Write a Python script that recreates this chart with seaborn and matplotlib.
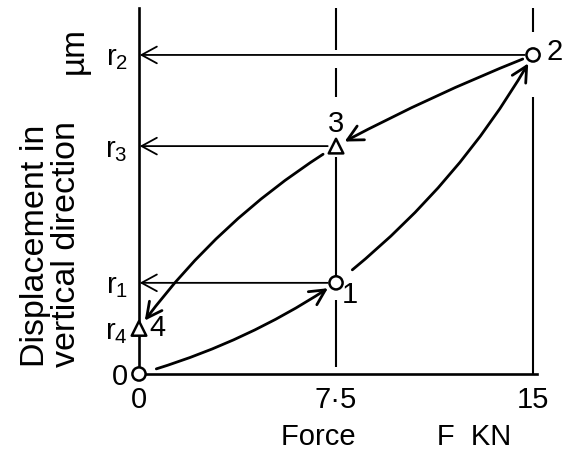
import matplotlib
matplotlib.use("Agg")
import matplotlib.pyplot as plt
import seaborn as sns
import pandas as pd

# ---- data ----
force = [0, 7.5, 15, 7.5, 0]
disp = [0, 2, 7, 5, 1]
point_names = ["0", "1", "2", "3", "4"]
point_kind = ["load", "load", "load", "unload", "unload"]
xticks = [0, 7.5, 15]
xtick_labels = ["0", "7·5", "15"]
yticks = [0, 1, 2, 5, 7]
ytick_labels = ["0", "r$_4$", "r$_1$", "r$_3$", "r$_2$"]

df = pd.DataFrame({"F": force, "r": disp, "name": point_names, "kind": point_kind})

sns.set_theme(style="white")
plt.rcParams["font.family"] = ["Liberation Sans", "DejaVu Sans"]
plt.rcParams["mathtext.default"] = "regular"

fig = plt.figure(figsize=(5.79, 4.55), dpi=100)
ax = fig.add_axes([139 / 579, 81 / 455, 398 / 579, 366 / 455])
ax.set_xlim(0, 15.15)
ax.set_ylim(0, 8.03)

for s in ["top", "right"]:
    ax.spines[s].set_visible(False)
for s in ["left", "bottom"]:
    ax.spines[s].set_color("black")
    ax.spines[s].set_linewidth(1.9)

# vertical reference lines, broken where other lines / markers cross
top = 8.03
def broken_vline(x, gaps):
    edges = [0.0]
    for lo, hi in gaps:
        edges += [lo, hi]
    edges.append(top)
    for i in range(0, len(edges), 2):
        ax.plot([x, x], [edges[i], edges[i + 1]], color="black", lw=1.5,
                solid_capstyle="butt", zorder=1)

r1, r2, r3 = disp[1], disp[2], disp[3]
broken_vline(xticks[1], [(-0.1, 0.15), (r1 - 0.38, r1 + 0.13), (r3 - 0.24, r3 + 1.08), (r2 - 0.28, r2 + 0.11)])
broken_vline(xticks[2], [(r2 - 0.92, r2 + 0.5)])

# horizontal arrows from points 1, 2, 3 to the displacement axis
for i in [1, 2, 3]:
    ax.annotate("", xy=(0, disp[i]), xytext=(force[i], disp[i]),
                arrowprops=dict(arrowstyle="->,head_length=0.55,head_width=0.3",
                                mutation_scale=20, lw=1.3, color="black",
                                shrinkA=6, shrinkB=0.5), zorder=2)

# curved path arrows 0->1->2->3->4
rads = [0.08, 0.1, 0.03, 0.1]
shrink_a = [13, 15, 8, 11]
for k in range(4):
    ax.annotate("", xy=(force[k + 1], disp[k + 1]), xytext=(force[k], disp[k]),
                arrowprops=dict(arrowstyle="->,head_length=0.55,head_width=0.28",
                                mutation_scale=20, lw=2.0, color="black",
                                connectionstyle=f"arc3,rad={rads[k]}",
                                shrinkA=shrink_a[k], shrinkB=7), zorder=3)

sns.scatterplot(data=df, x="F", y="r", style="kind", markers={"load": "o", "unload": "^"},
                size="kind", sizes={"load": 90, "unload": 110},
                facecolor="white", edgecolor="black", linewidth=1.8,
                legend=False, ax=ax, zorder=5, clip_on=False)

# point numbers
offsets = {"1": (14, -12), "2": (22, 3), "3": (0, 22), "4": (18, 0)}
for x, y, n in zip(force, disp, point_names):
    if n in offsets:
        dx, dy = offsets[n]
        ax.annotate(n, (x, y), xytext=(dx / 1.389, dy / 1.389), textcoords="offset points",
                    ha="center", va="center", fontsize=21, color="black")

ax.set_xticks(xticks)
ax.set_xticklabels(xtick_labels)
ax.set_yticks(yticks)
ax.set_yticklabels(ytick_labels)
ax.tick_params(axis="both", length=0, labelsize=21, colors="black")
ax.tick_params(axis="x", pad=9)
ax.tick_params(axis="y", pad=8)

ax.set_xlabel("Force          F  KN", fontsize=21, color="black")
ax.xaxis.label.set_va("center")
ax.xaxis.set_label_coords(0.646, -0.172)
ax.set_ylabel("")

fig.text(51 / 579, 1 - 367 / 455, "Displacement in\nvertical direction", rotation=90,
         ha="center", va="bottom", multialignment="left", fontsize=24.5,
         linespacing=1.0, color="black")
fig.text(74 / 579, 1 - 50 / 455, "µm", rotation=90, ha="center", va="center",
         fontsize=24, color="black")

fig.savefig("out.png", dpi=100, facecolor="white")
